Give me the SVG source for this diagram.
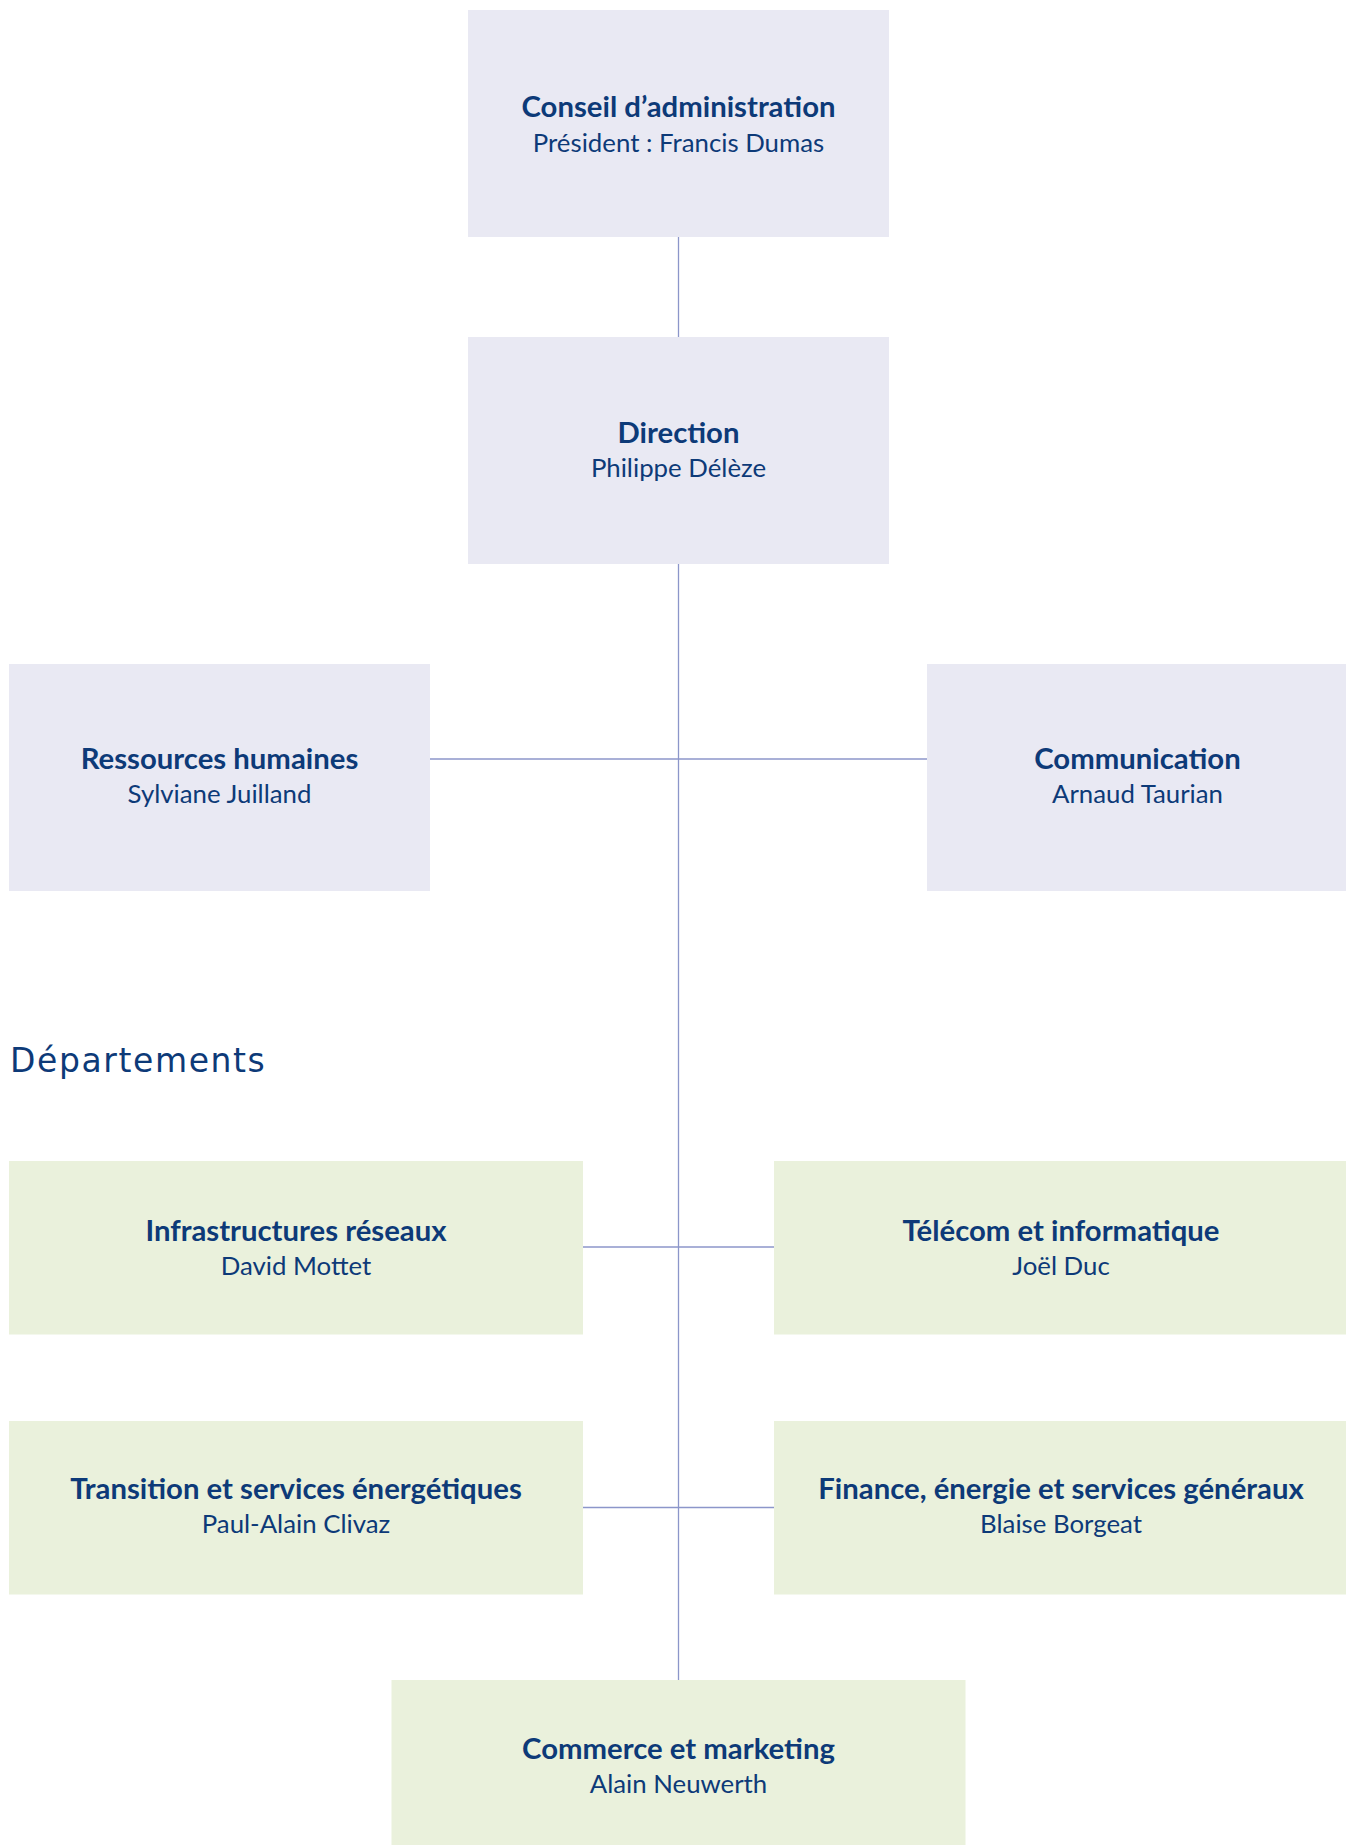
<svg xmlns="http://www.w3.org/2000/svg" width="1346" height="1845" viewBox="0 0 1346 1845">
  <style>
    .box-exec { fill: #e9e9f3; }
    .box-dept { fill: #eaf1dc; }
    .title { font-family: Lato, "Noto Sans", "Liberation Sans", sans-serif; font-weight: 700; font-size: 29.3px; fill: #0d3a78; text-anchor: middle; }
    .sub { font-family: Lato, "Noto Sans", "Liberation Sans", sans-serif; font-weight: 400; font-size: 25.8px; fill: #0d3a78; text-anchor: middle; }
    .heading { font-family: "DejaVu Sans", Lato, sans-serif; font-weight: 400; font-size: 33px; letter-spacing: 1.6px; fill: #0d3a78; }
    .conn { stroke: #8c96ca; stroke-width: 1.3; fill: none; }
  </style>
  <rect width="1346" height="1845" fill="#ffffff"/>

  <g id="connectors">
    <line class="conn" x1="678.5" y1="237" x2="678.5" y2="337"/>
    <line class="conn" x1="678.5" y1="564" x2="678.5" y2="1680"/>
    <line class="conn" x1="430" y1="759" x2="927" y2="759"/>
    <line class="conn" x1="583" y1="1247" x2="774" y2="1247"/>
    <line class="conn" x1="583" y1="1507.5" x2="774" y2="1507.5"/>
  </g>

  <g id="conseil">
    <rect class="box-exec" x="468" y="10" width="421" height="227"/>
    <text class="title" x="678.5" y="117">Conseil d’administration</text>
    <text class="sub" x="678.5" y="151.7">Président : Francis Dumas</text>
  </g>

  <g id="direction">
    <rect class="box-exec" x="468" y="337" width="421" height="227"/>
    <text class="title" x="678.5" y="443.3">Direction</text>
    <text class="sub" x="678.5" y="476.7">Philippe Délèze</text>
  </g>

  <g id="rh">
    <rect class="box-exec" x="9" y="664" width="421" height="227"/>
    <text class="title" x="219.5" y="769.3">Ressources humaines</text>
    <text class="sub" x="219.5" y="803.3">Sylviane Juilland</text>
  </g>

  <g id="communication">
    <rect class="box-exec" x="927" y="664" width="421" height="227"/>
    <text class="title" x="1137.5" y="769.3">Communication</text>
    <text class="sub" x="1137.5" y="803.3">Arnaud Taurian</text>
  </g>

  <g id="departements-heading">
    <text class="heading" x="10" y="1072.3">Départements</text>
  </g>

  <g id="infrastructures">
    <rect class="box-dept" x="9" y="1161" width="574" height="173.5"/>
    <text class="title" x="296" y="1240.5">Infrastructures réseaux</text>
    <text class="sub" x="296" y="1275">David Mottet</text>
  </g>

  <g id="telecom">
    <rect class="box-dept" x="774" y="1161" width="574" height="173.5"/>
    <text class="title" x="1061" y="1240.5">Télécom et informatique</text>
    <text class="sub" x="1061" y="1275">Joël Duc</text>
  </g>

  <g id="transition">
    <rect class="box-dept" x="9" y="1421" width="574" height="173.5"/>
    <text class="title" x="296" y="1499.3">Transition et services énergétiques</text>
    <text class="sub" x="296" y="1533.3">Paul-Alain Clivaz</text>
  </g>

  <g id="finance">
    <rect class="box-dept" x="774" y="1421" width="574" height="173.5"/>
    <text class="title" x="1061" y="1499.3">Finance, énergie et services généraux</text>
    <text class="sub" x="1061" y="1533.3">Blaise Borgeat</text>
  </g>

  <g id="commerce">
    <rect class="box-dept" x="391.5" y="1680" width="574" height="173.5"/>
    <text class="title" x="678.5" y="1759">Commerce et marketing</text>
    <text class="sub" x="678.5" y="1793.3">Alain Neuwerth</text>
  </g>
</svg>
